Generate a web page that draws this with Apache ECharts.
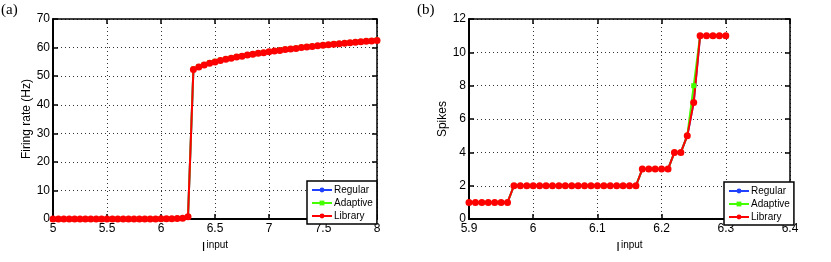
<!DOCTYPE html>
<html><head><meta charset="utf-8">
<script src="https://cdn.jsdelivr.net/npm/echarts@6/dist/echarts.min.js"></script>
<style>html,body{margin:0;padding:0;background:#fff}#c{width:831px;height:262px}</style>
</head><body><div id="c"></div>
<script>
// Panel (a): firing rate vs input
const xA = [5,5.05,5.1,5.15,5.2,5.25,5.3,5.35,5.4,5.45,5.5,5.55,5.6,5.65,5.7,5.75,5.8,5.85,5.9,5.95,6,6.05,6.1,6.15,6.2,6.25,6.3,6.35,6.4,6.45,6.5,6.55,6.6,6.65,6.7,6.75,6.8,6.85,6.9,6.95,7,7.05,7.1,7.15,7.2,7.25,7.3,7.35,7.4,7.45,7.5,7.55,7.6,7.65,7.7,7.75,7.8,7.85,7.9,7.95,8];
const libraryA = [0,0,0,0,0,0,0,0,0,0,0,0,0,0,0,0,0,0,0,0,0.1,0.1,0.1,0.2,0.3,0.8,52.3,53.2,53.9,54.5,55.0,55.5,55.9,56.3,56.7,57.0,57.4,57.7,58.0,58.2,58.5,58.8,59.0,59.3,59.5,59.7,60.0,60.2,60.4,60.6,60.8,61.0,61.2,61.3,61.5,61.7,61.9,62.0,62.2,62.3,62.5];
const regularA = libraryA.slice();
const adaptiveA = [0,0,0,0,0,0,0,0,0,0,0,0,0,0,0,0,0,0,0,0,0.1,0.1,0.1,0.2,0.3,0.8,52.5,53.4,54.1,54.7,55.2,55.6,56.0,56.4,56.8,57.1,57.5,57.8,58.1,58.3,58.6,58.9,59.1,59.4,59.6,59.8,60.1,60.3,60.5,60.7,60.9,61.1,61.3,61.4,61.6,61.8,62.0,62.1,62.3,62.4,62.6];
// Panel (b): spikes vs input
const xB = [5.9,5.91,5.92,5.93,5.94,5.95,5.96,5.97,5.98,5.99,6,6.01,6.02,6.03,6.04,6.05,6.06,6.07,6.08,6.09,6.1,6.11,6.12,6.13,6.14,6.15,6.16,6.17,6.18,6.19,6.2,6.21,6.22,6.23,6.24,6.25,6.26,6.27,6.28,6.29,6.3];
const libraryB = [1,1,1,1,1,1,1,2,2,2,2,2,2,2,2,2,2,2,2,2,2,2,2,2,2,2,2,3,3,3,3,3,4,4,5,7,11,11,11,11,11];
const regularB = libraryB.slice();
const adaptiveB = [1,1,1,1,1,1,1,2,2,2,2,2,2,2,2,2,2,2,2,2,2,2,2,2,2,2,2,3,3,3,3,3,4,4,5,8,11,11,11,11,11];
const seriesNames = ['Regular','Adaptive','Library'];
const colors = ['#2040ff','#44ff00','#ff0000'];

const pairs = (xs, ys) => xs.map((x,i)=>[x, ys[i]]);
const FONT = 'Liberation Sans, Arial, sans-serif';
const gridLine = {show:true, lineStyle:{color:'#333', type:[1,3], width:1}};
const tick = {show:true, inside:true, length:5, lineStyle:{color:'#000', width:1.5}};
const lbl = {color:'#000', fontSize:12, fontFamily:FONT};

function mainX(gi, min, max, interval){
  return {type:'value', gridIndex:gi, min, max, interval,
    axisLine:{show:true, onZero:false, lineStyle:{color:'#000', width:2}},
    axisTick:tick, splitLine:gridLine, axisLabel:Object.assign({margin:4}, lbl),
    name:'{i|I}{s|input}', nameLocation:'middle', nameGap:16,
    nameTextStyle:{rich:{i:{fontSize:13, fontFamily:FONT, color:'#000', verticalAlign:'bottom', lineHeight:14}, s:{fontSize:10, fontFamily:FONT, color:'#000', verticalAlign:'top', padding:[0,0,7,1], lineHeight:14}}}};
}
function topX(gi, min, max, interval){
  return {type:'value', gridIndex:gi, min, max, interval, position:'top',
    axisLine:{show:true, onZero:false, lineStyle:{color:'#000', width:1.5}},
    axisTick:tick, splitLine:{show:false}, axisLabel:{show:false}};
}
function mainY(gi, min, max, interval, name, gap){
  return {type:'value', gridIndex:gi, min, max, interval,
    axisLine:{show:true, onZero:false, lineStyle:{color:'#000', width:2}},
    axisTick:tick, splitLine:gridLine, axisLabel:Object.assign({margin:3}, lbl),
    name, nameLocation:'middle', nameGap:gap,
    nameTextStyle:{fontSize:12, fontFamily:FONT, color:'#000'}};
}
function rightY(gi, min, max, interval){
  return {type:'value', gridIndex:gi, min, max, interval, position:'right',
    axisLine:{show:true, onZero:false, lineStyle:{color:'#000', width:1.5}},
    axisTick:tick, splitLine:{show:false}, axisLabel:{show:false}};
}
function mk(name, ci, data, xi, yi, sym, size){
  return {name, type:'line', xAxisIndex:xi, yAxisIndex:yi, data,
    symbol:sym, symbolSize:size, showSymbol:true, animation:false,
    lineStyle:{color:colors[ci], width:2}, itemStyle:{color:colors[ci], borderWidth:0}};
}
function legend(left, top){
  return {data:seriesNames, orient:'vertical', left, top, width:60,
    itemWidth:20, itemHeight:6, itemGap:3, padding:[4,4,3,4],
    borderColor:'#000', borderWidth:1.5, backgroundColor:'#fff', selectedMode:false,
    textStyle:{fontSize:10, fontFamily:FONT, color:'#000', padding:[0,0,0,-3]}};
}

const chart = echarts.init(document.getElementById('c'), null, {renderer:'canvas'});
chart.setOption({
  backgroundColor:'#fff', animation:false,
  grid:[{left:53, right:454, top:19, bottom:34},{left:469, right:41, top:19, bottom:34}],
  xAxis:[mainX(0,5,8,0.5), topX(0,5,8,0.5), mainX(1,5.9,6.4,0.1), topX(1,5.9,6.4,0.1)],
  yAxis:[mainY(0,0,70,10,'Firing rate (Hz)',20), rightY(0,0,70,10), mainY(1,0,12,2,'Spikes',19), rightY(1,0,12,2)],
  legend:[legend(307,181), legend(724,182)],
  graphic:[
    {type:'text', left:1, top:3, style:{text:'(a)', fontSize:15, fontFamily:'Liberation Serif, Times New Roman, serif', fill:'#000'}},
    {type:'text', left:417, top:3, style:{text:'(b)', fontSize:15, fontFamily:'Liberation Serif, Times New Roman, serif', fill:'#000'}}
  ],
  series:[
    mk('Regular',0,pairs(xA,regularA),0,0,'circle',4),
    mk('Adaptive',1,pairs(xA,adaptiveA),0,0,'rect',5),
    mk('Library',2,pairs(xA,libraryA),0,0,'circle',7),
    mk('Regular',0,pairs(xB,regularB),2,2,'circle',4),
    mk('Adaptive',1,pairs(xB,adaptiveB),2,2,'rect',5),
    mk('Library',2,pairs(xB,libraryB),2,2,'circle',7)
  ]
});
</script></body></html>
